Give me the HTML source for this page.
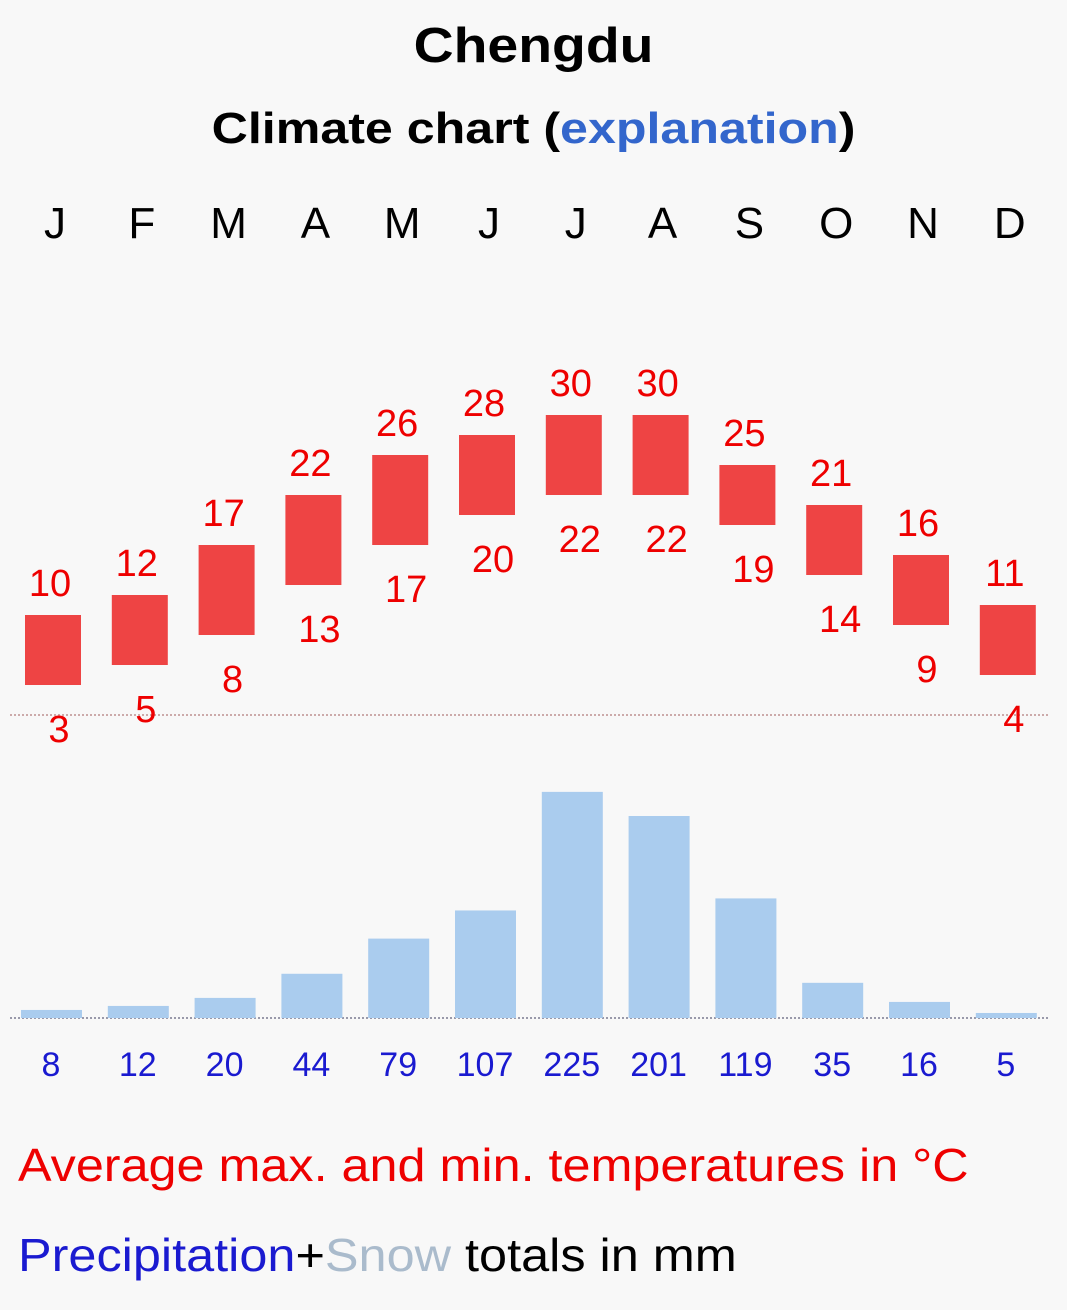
<!DOCTYPE html>
<html><head><meta charset="utf-8"><style>
body{margin:0;background:#f8f8f8;font-family:"Liberation Sans",Arial,sans-serif;}
#wrap{position:relative;width:1067px;height:1310px;overflow:hidden;background:#f8f8f8;}
.t{position:absolute;white-space:nowrap;}
</style></head><body>
<div id="wrap">
<div class="t" style="left:0;width:1067px;text-align:center;top:18px;font-size:49px;font-weight:bold;transform:scaleX(1.13);transform-origin:533px 0;">Chengdu</div>
<div class="t" style="left:0;width:1067px;text-align:center;top:104px;font-size:44px;font-weight:bold;transform:scaleX(1.14);transform-origin:533px 0;">Climate chart (<span style="color:#3366cc">explanation</span>)</div>
<svg id="svg" width="1067" height="1310" style="position:absolute;left:0;top:0"></svg>
<div class="t" style="left:18px;top:1138px;font-size:46px;color:#e00;transform:scaleX(1.094);transform-origin:0 0;">Average max. and min. temperatures in °C</div>
<div class="t" style="left:18px;top:1228px;font-size:46px;transform:scaleX(1.096);transform-origin:0 0;"><span style="color:#1a1ad0">Precipitation</span>+<span style="color:#aabbcc">Snow</span> totals in mm</div>
</div>
<script>
const months=["J","F","M","A","M","J","J","A","S","O","N","D"];
const tMax=[10,12,17,22,26,28,30,30,25,21,16,11];
const tMin=[3,5,8,13,17,20,22,22,19,14,9,4];
const precip=[8,12,20,44,79,107,225,201,119,35,16,5];
const NS="http://www.w3.org/2000/svg";
const svg=document.getElementById('svg');
const cx=i=>53+i*86.8;
const ty=t=>715-t*10;
const py=p=>1018-p*1.005;
function mk(tag,attrs,txt){const e=document.createElementNS(NS,tag);for(const k in attrs)e.setAttribute(k,attrs[k]);if(txt!==undefined)e.textContent=txt;svg.appendChild(e);return e;}
months.forEach((m,i)=>{
 const e=mk('text',{x:cx(i)+2,y:238,'text-anchor':'middle','font-size':44,fill:'#000','font-family':'Liberation Sans'},m);
 
 
});
let z=mk('line',{x1:10,x2:1050,y1:ty(0),y2:ty(0),stroke:'#caa',"stroke-dasharray":"2,2","stroke-width":2});


let b=mk('line',{x1:10,x2:1050,y1:1018,y2:1018,stroke:'#99a',"stroke-dasharray":"2,2","stroke-width":2});


tMax.forEach((mx,i)=>{
 const mn=tMin[i];
 const r=mk('rect',{x:cx(i)-28,y:ty(mx),width:56,height:ty(mn)-ty(mx),fill:'#ee4444'});
 
 
 const a=mk('text',{x:cx(i)-3,y:ty(mx)-19,'text-anchor':'middle','font-size':38,fill:'#e00','font-family':'Liberation Sans'},mx);
 
 
 const c=mk('text',{x:cx(i)+6,y:ty(mn)+57,'text-anchor':'middle','font-size':38,fill:'#e00','font-family':'Liberation Sans'},mn);
 
 
});
precip.forEach((p,i)=>{
 const r=mk('rect',{x:cx(i)-32,y:py(p),width:61,height:1018-py(p),fill:'#aaccee'});
 
 
 const t=mk('text',{x:cx(i)-2,y:1076,'text-anchor':'middle','font-size':34,fill:'#1a1ad0','font-family':'Liberation Sans'},p);
 
 
});
</script>
</body></html>
